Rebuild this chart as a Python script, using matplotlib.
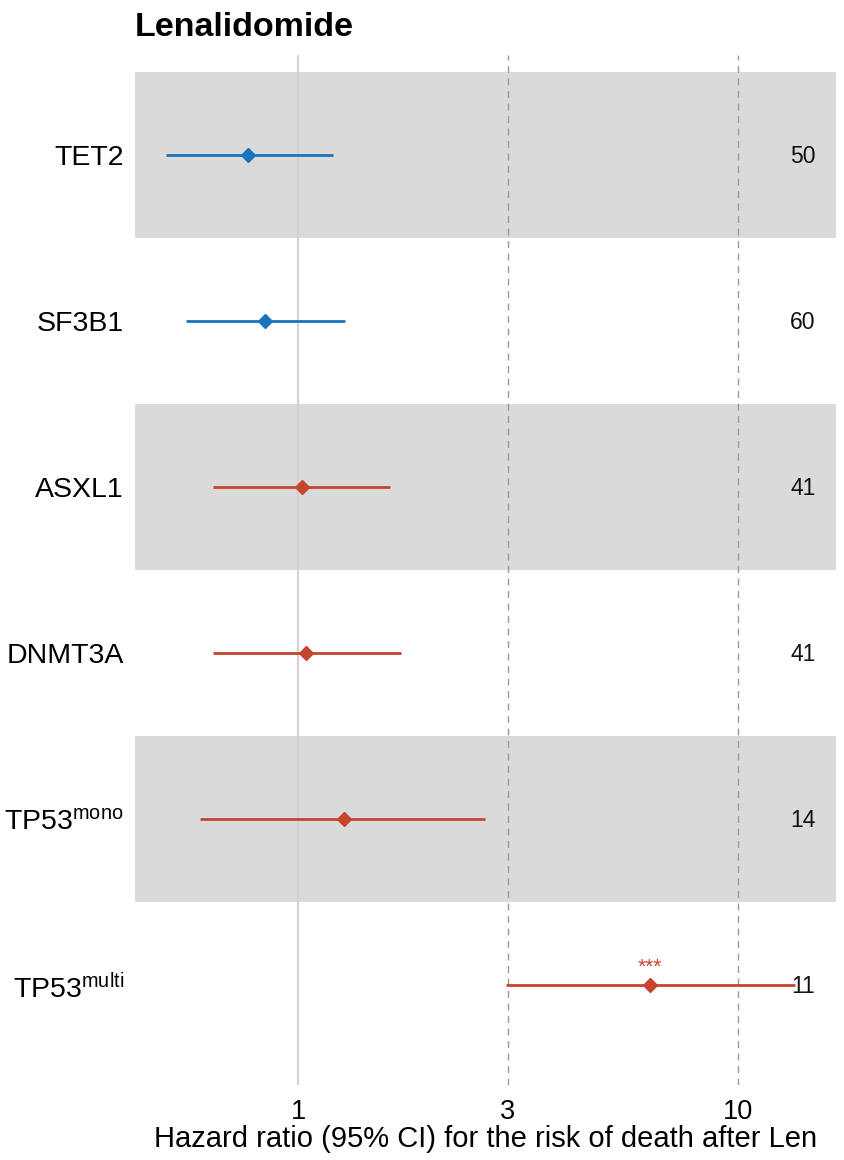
import matplotlib
matplotlib.use("Agg")
from matplotlib import pyplot as plt
from matplotlib import transforms
import numpy as np

plt.rcParams['font.family'] = ['Liberation Sans', 'DejaVu Sans']
plt.rcParams['mathtext.fontset'] = 'custom'
plt.rcParams['mathtext.rm'] = 'Liberation Sans'
plt.rcParams['mathtext.it'] = 'Liberation Sans'

# data
genes = ['TET2', 'SF3B1', 'ASXL1', 'DNMT3A', r'TP53$^{\mathrm{mono}}$', r'TP53$^{\mathrm{multi}}$']
hr = [0.77, 0.84, 1.02, 1.04, 1.27, 6.3]
ci_low = [0.50, 0.555, 0.64, 0.64, 0.60, 2.97]
ci_high = [1.20, 1.28, 1.62, 1.71, 2.66, 13.5]
n_patients = [50, 60, 41, 41, 14, 11]
signif = ['', '', '', '', '', '***']
direction = ['low', 'low', 'high', 'high', 'high', 'high']

colors = {'low': '#1a74bb', 'high': '#c6452e'}
xticks = [1, 3, 10]

fig = plt.figure(figsize=(8.45, 11.6), dpi=100)
ax = fig.add_axes([135 / 845, 1 - 1085 / 1160, 701 / 845, 1030 / 1160])

ax.set_xscale('log')
ax.set_xlim(0.426, 16.7)
ax.set_ylim(len(genes) + 0.6, 0.4)

ypos = np.arange(1, len(genes) + 1)

# alternating gray bands
for i, y in enumerate(ypos):
    if i % 2 == 0:
        ax.axhspan(y - 0.5, y + 0.5, color='#dadada', lw=0, zorder=0)

# reference lines
ax.axvline(1, color='#d2d2d2', lw=1.5, zorder=1)
for xv in xticks[1:]:
    ax.axvline(xv, color='#9a9a9a', lw=1, ls=(0, (5, 4)), zorder=1)

for i, y in enumerate(ypos):
    c = colors[direction[i]]
    ax.plot([ci_low[i], ci_high[i]], [y, y], color=c, lw=2, zorder=3, solid_capstyle='butt')
    ax.plot(hr[i], y, marker='D', color=c, ms=7, zorder=4)
    if signif[i]:
        ax.annotate(signif[i], (hr[i], y), xytext=(0, 6), textcoords='offset points',
                    ha='center', va='bottom', color=c, fontsize=15)

trans = transforms.blended_transform_factory(ax.transAxes, ax.transData)
for i, y in enumerate(ypos):
    ax.text(0.953, y + 0.01, str(n_patients[i]), transform=trans, ha='center', va='center',
            fontsize=16.5, color='#111111', zorder=5)

ax.set_yticks(ypos)
ax.set_yticklabels(genes, fontsize=20.5)
ax.set_xticks(xticks)
ax.set_xticklabels([str(t) for t in xticks], fontsize=19.5)
ax.xaxis.set_minor_locator(matplotlib.ticker.NullLocator())
ax.tick_params(axis='both', length=0, pad=8)
ax.tick_params(axis='x', pad=10)
for s in ax.spines.values():
    s.set_visible(False)

ax.set_xlabel('Hazard ratio (95% CI) for the risk of death after Len', fontsize=21, labelpad=0)
fig.text(135 / 845, 1 - 28 / 1160, 'Lenalidomide', fontsize=24.5, fontweight='bold',
         ha='left', va='center')

fig.savefig('out.png', dpi=100)
